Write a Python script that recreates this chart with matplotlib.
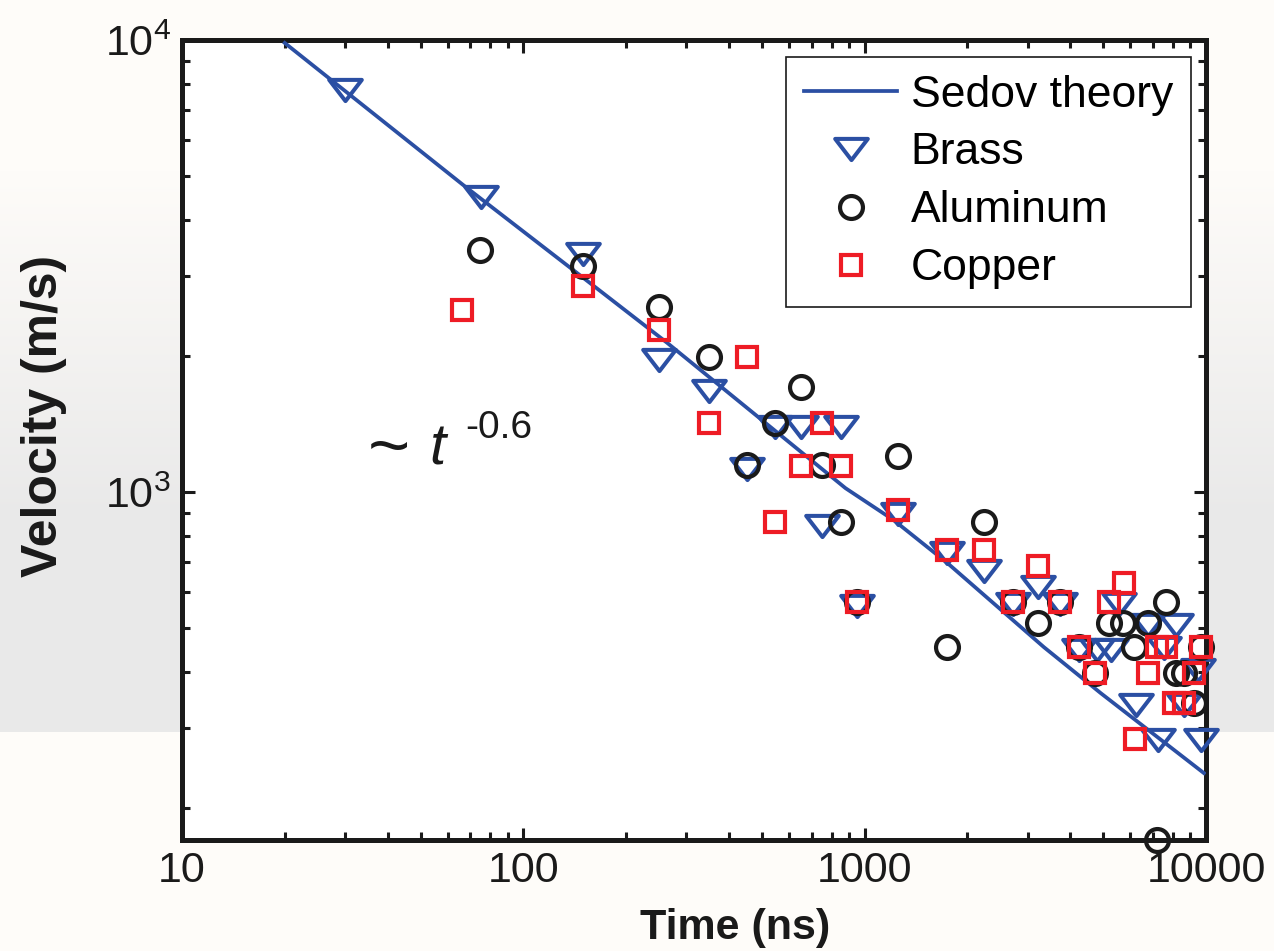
import numpy as np
import matplotlib
matplotlib.use('Agg')
import matplotlib.pyplot as plt
from matplotlib.path import Path
from matplotlib.ticker import LogLocator, NullFormatter

# Sedov blast-wave theory curve
sedov_t = [20, 66.7, 137.4, 264, 567, 879, 1216, 1750, 3350, 4920, 9860]
sedov_v = [9850, 4776, 3133, 2138, 1336, 1020, 867, 696, 454, 359, 239]

# measured shock velocities
brass_t = [30.1, 75.3, 150, 249, 349, 451, 545, 649, 851, 748, 948, 1250,
           1740, 2233, 2716, 3216, 3733, 4244, 4787, 5260, 5560, 6760, 8170,
           6240, 7230, 9670, 7530, 8610, 9480]
brass_v = [7750, 4500, 3360, 1960, 1673, 1125, 1393, 1393, 1393, 841, 560, 894,
           733, 669, 565, 616, 565, 447, 447, 447, 565, 508, 508,
           338, 283, 283, 452, 338, 404]

alum_t = [74.8, 150, 249, 349, 545, 649, 451, 748, 851, 1250, 948, 1740,
          2233, 2716, 3216, 3733, 4244, 5200, 5710, 6150, 6760, 7640, 8170,
          8610, 9230, 7180, 9670, 4725]
alum_v = [3430, 3160, 2566, 1990, 1421, 1707, 1147, 1147, 859, 1201, 571, 454,
          859, 571, 513, 571, 454, 513, 513, 454, 513, 571, 398,
          398, 341, 170, 454, 398]

copper_t = [66.2, 150, 249, 451, 349, 545, 748, 649, 851, 948, 1250, 1740,
            2233, 3216, 2716, 3733, 4244, 4725, 5750, 5200, 6760, 7180, 7640,
            9670, 9230, 8060, 8610, 6200]
copper_v = [2528, 2857, 2282, 1990, 1421, 859, 1421, 1141, 1141, 571, 912, 744,
            744, 686, 571, 571, 454, 398, 629, 571, 398, 454, 454,
            454, 398, 341, 341, 284]

xtick_vals = [10, 100, 1000, 10000]
xtick_labels = ['10', '100', '1000', '10000']

blue = '#2b4fa3'
red = '#ee1c25'
black = '#1a1a1a'

plt.rcParams['font.family'] = ['Liberation Sans', 'DejaVu Sans']
plt.rcParams['mathtext.fontset'] = 'custom'
plt.rcParams['mathtext.rm'] = 'Liberation Sans'
plt.rcParams['mathtext.it'] = 'Liberation Sans:italic'

fig = plt.figure(figsize=(12.74, 9.51), dpi=100)

# page background: off-white fading into a grey band
h = 951
rows = np.arange(h)
top_c = np.array([254, 252, 249]) / 255
grey_c = np.array([233, 233, 233]) / 255
f = np.clip((rows - 170) / (520 - 170), 0, 1)[:, None]
grad = top_c + (grey_c - top_c) * f
grad[rows > 731] = top_c
bg = fig.add_axes([0, 0, 1, 1], zorder=-10)
bg.imshow(np.repeat(grad[:, None, :], 4, axis=1), aspect='auto',
          extent=[0, 1, 0, 1])
bg.axis('off')

ax = fig.add_axes([182 / 1274, 111 / 951, 1024 / 1274, 800 / 951])
ax.set_facecolor('white')

# downward triangle, wider than tall
tri = Path([(-1, 0.65), (1, 0.65), (0, -0.65), (-1, 0.65)], closed=True)
ax.plot(sedov_t, sedov_v, color=blue, lw=2.7, label='Sedov theory')
ax.plot(brass_t, brass_v, ls='none', marker=tri, ms=23.5, mfc='none',
        mec=blue, mew=2.9, label='Brass', clip_on=False)
ax.plot(alum_t, alum_v, ls='none', marker='o', ms=16.5, mfc='none',
        mec=black, mew=3.0, label='Aluminum', clip_on=False)
ax.plot(copper_t, copper_v, ls='none', marker='s', ms=14.5, mfc='none',
        mec=red, mew=3.0, label='Copper', clip_on=False)

ax.set_xscale('log')
ax.set_yscale('log')
ax.set_xlim(10, 10000)
ax.set_ylim(170, 10000)

ax.set_xticks(xtick_vals)
ax.set_xticklabels(xtick_labels)
ax.xaxis.set_minor_locator(LogLocator(base=10, subs=np.arange(2, 10)))
ax.xaxis.set_minor_formatter(NullFormatter())
ax.set_yticks([1000, 10000])
ax.set_yticklabels([r'$\mathregular{10^{3}}$', r'$\mathregular{10^{4}}$'])
ax.yaxis.set_minor_locator(LogLocator(base=10, subs=np.arange(2, 10)))
ax.yaxis.set_minor_formatter(NullFormatter())

for s in ax.spines.values():
    s.set_linewidth(3.6)
    s.set_color(black)
    s.set_zorder(1)
ax.tick_params(which='both', direction='in', top=True, right=True,
               width=2.2, color=black, labelsize=31, labelcolor=black)
ax.tick_params(which='major', length=9, pad=8)
ax.tick_params(which='minor', length=5.5)

ax.set_xlabel('Time (ns)', fontsize=31, fontweight='bold', color=black)
ax.set_ylabel('Velocity (m/s)', fontsize=36, fontweight='bold', color=black)
ax.xaxis.set_label_coords(0.54, -0.085)
ax.yaxis.set_label_coords(-0.112, 0.53)

ax.text(35, 1120, '~', fontsize=52, color=black)
ax.text(53, 1150, 't', fontsize=42, style='italic', color=black)
ax.text(67.6, 1316, '-0.6', fontsize=28, color=black)

leg = ax.legend(loc='upper right', bbox_to_anchor=(0.985, 0.979),
                fontsize=32, frameon=True, fancybox=False, framealpha=1,
                edgecolor=black, borderaxespad=0, handlelength=2.1,
                handletextpad=0.3, labelspacing=0.38, borderpad=0.4,
                numpoints=1)
leg.get_frame().set_linewidth(1.2)

fig.savefig('out.png', dpi=100)
